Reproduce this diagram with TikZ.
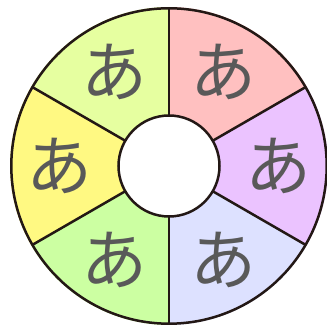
\documentclass[tikz,border=0pt]{standalone}
\usepackage{fontspec}
\newfontfamily\kanafont{Noto Sans CJK JP}
\definecolor{ringLine}{HTML}{231815}
\definecolor{kanaGrey}{HTML}{595959}
\definecolor{sectorPink}{HTML}{FFC0C0}
\definecolor{sectorLilac}{HTML}{EBC3FF}
\definecolor{sectorBlue}{HTML}{DDE1FF}
\definecolor{sectorGreen}{HTML}{CCFFA2}
\definecolor{sectorYellow}{HTML}{FFF982}
\definecolor{sectorLime}{HTML}{E6FFA0}

\begin{document}
\begin{tikzpicture}[x=1pt, y=1pt, every node/.style={align=center},
    ring/.style={draw=ringLine, line width=2.5pt},
    kana/.style={text=kanaGrey, font=\fontsize{66}{66}\selectfont\kanafont, inner sep=0pt}]
  \useasboundingbox (0,0) rectangle (327,326);
  \coordinate (centre) at (169,160);
  % coloured sectors with one kana each
  \foreach \start/\col [count=\i] in {30/sectorPink, -30/sectorLilac, -90/sectorBlue, -150/sectorGreen, 150/sectorYellow, 90/sectorLime} {
    \fill[\col] (centre) -- ++(\start:159) arc[start angle=\start, delta angle=60, radius=159] -- cycle;
    \node[kana] (kana\i) at ([shift={(\start+30:109)}]centre) {あ};
  }
  % spokes and rims
  \foreach \a in {30,90,...,330}
    \draw[ring] (centre) ++(\a:51) -- ++(\a:107);
  \draw[ring] (centre) circle[radius=157.7];
  \draw[ring, fill=white] (centre) circle[radius=50.5];
\end{tikzpicture}
\end{document}
